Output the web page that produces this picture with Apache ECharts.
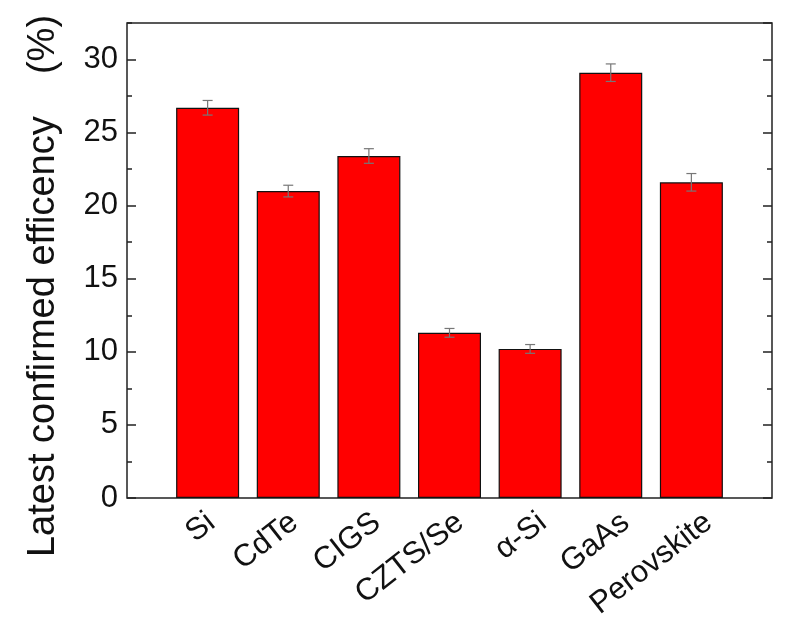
<!DOCTYPE html>
<html>
<head>
<meta charset="utf-8">
<script src="https://cdn.jsdelivr.net/npm/echarts@6/dist/echarts.min.js"></script>
<style>
  html, body { margin: 0; padding: 0; background: #fff; }
  #main { width: 792px; height: 634px; }
</style>
</head>
<body>
<div id="main"></div>
<script>
var categories = ['Si', 'CdTe', 'CIGS', 'CZTS/Se', 'α-Si', 'GaAs', 'Perovskite']
var efficiency = [26.7, 21.0, 23.4, 11.3, 10.2, 29.1, 21.6]
var errors = [0.5, 0.4, 0.5, 0.3, 0.3, 0.6, 0.6]
var yTicks = [0, 5, 10, 15, 20, 25, 30]

var font = '"Liberation Sans", Arial, sans-serif'

var myChart = echarts.init(document.getElementById('main'))

var barData = efficiency.map(function (v, i) { return [i + 1, v] })
var errData = efficiency.map(function (v, i) { return [i + 1, v - errors[i], v + errors[i]] })

function yAxisCfg(pos, interval, len, labels) {
  return {
    type: 'value',
    gridIndex: 0,
    position: pos,
    min: 0,
    max: 32.5,
    interval: interval,
    axisLine: { show: false },
    splitLine: { show: false },
    axisTick: { show: true, inside: true, length: len, lineStyle: { color: '#222', width: 1.5 } },
    axisLabel: {
      show: labels,
      margin: 9,
      fontFamily: font,
      fontSize: 31,
      color: '#111',
      showMaxLabel: false,
      formatter: function (v) { return yTicks.indexOf(v) >= 0 ? String(v) : '' }
    }
  }
}

myChart.setOption({
  animation: false,
  grid: [
    {
      left: 127, top: 23, right: 20, bottom: 136,
      show: true, borderColor: '#222', borderWidth: 1.5, backgroundColor: '#fff'
    },
    // invisible grid that only carries the slanted category names
    { left: 170, top: 23, right: 42, bottom: 136, show: false }
  ],
  xAxis: [
    {
      type: 'value', gridIndex: 0, min: 0, max: 8, interval: 1,
      axisLine: { show: false }, axisTick: { show: false },
      splitLine: { show: false }, axisLabel: { show: false }
    },
    {
      type: 'category', gridIndex: 1, data: categories,
      axisLine: { show: false }, axisTick: { show: false }, splitLine: { show: false },
      axisLabel: {
        rotate: 38,
        interval: 0,
        margin: 21,
        fontFamily: font,
        fontSize: 31,
        color: '#111'
      }
    }
  ],
  yAxis: [
    yAxisCfg('left', 5, 9, true),
    yAxisCfg('left', 2.5, 5, false),
    yAxisCfg('right', 5, 9, false),
    yAxisCfg('right', 2.5, 5, false),
    { type: 'value', gridIndex: 1, show: false }
  ],
  graphic: [{
    type: 'text',
    x: 44,
    y: 286,
    rotation: Math.PI / 2,
    style: {
      text: 'Latest confirmed efficency    (%)',
      font: '38px ' + font,
      fill: '#111',
      align: 'center',
      verticalAlign: 'middle'
    }
  }],
  series: [
    {
      type: 'bar',
      xAxisIndex: 0,
      yAxisIndex: 0,
      data: barData,
      barWidth: 63,
      itemStyle: { color: '#ff0000', borderColor: '#111', borderWidth: 1.2 }
    },
    {
      type: 'custom',
      xAxisIndex: 0,
      yAxisIndex: 0,
      data: errData,
      z: 5,
      renderItem: function (params, api) {
        var lo = api.coord([api.value(0), api.value(1)])
        var hi = api.coord([api.value(0), api.value(2)])
        var half = 5
        var st = { stroke: '#777', lineWidth: 1.2 }
        return {
          type: 'group',
          children: [
            { type: 'line', shape: { x1: hi[0], y1: hi[1], x2: lo[0], y2: lo[1] }, style: st },
            { type: 'line', shape: { x1: hi[0] - half, y1: hi[1], x2: hi[0] + half, y2: hi[1] }, style: st },
            { type: 'line', shape: { x1: lo[0] - half, y1: lo[1], x2: lo[0] + half, y2: lo[1] }, style: st }
          ]
        }
      }
    }
  ]
})
</script>
</body>
</html>
